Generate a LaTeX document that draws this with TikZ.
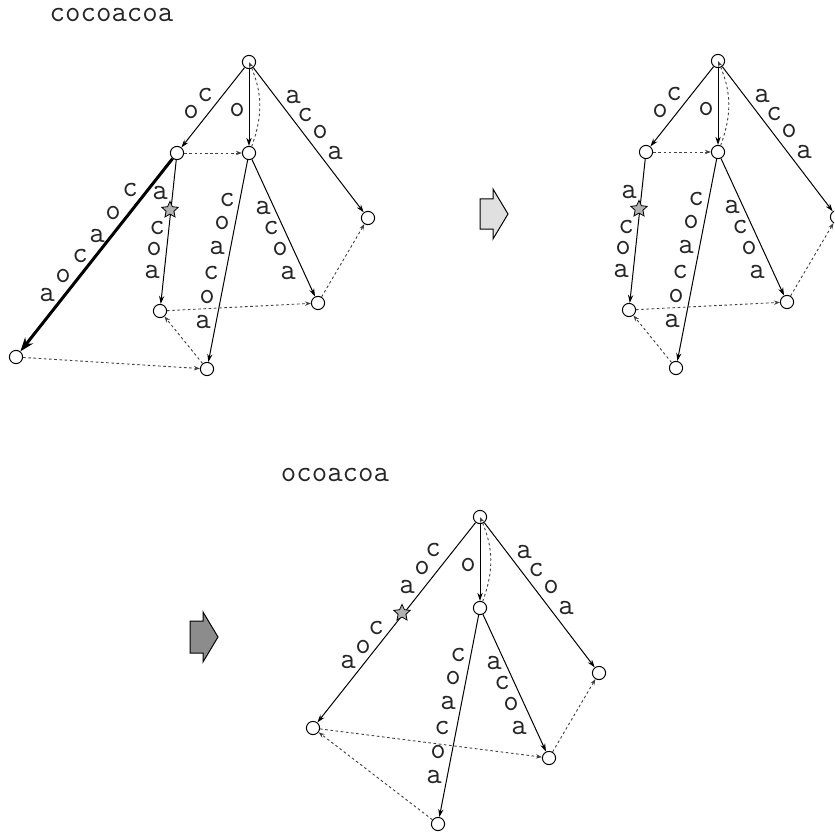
\documentclass[tikz,border=0pt]{standalone}
\usetikzlibrary{arrows.meta,shapes.geometric}

% shared part of the three trees (coordinates of the first tree)
\newcommand\coretree{%
  \node[st] (R) at (249,62) {};
  \node[st] (B) at (249,153) {};
  \node[st] (C) at (368,218) {};
  \node[st] (F) at (207,369) {};
  \node[st] (G) at (318,303) {};
  \draw[tr] (R) -- (B);
  \draw[tr] (R) -- (C);
  \draw[tr] (B) -- (F);
  \draw[tr] (B) -- (G);
  \draw[sl] (B) to[bend right=22] (R);
  \draw[sl] (G) -- (C);
  \node[lbl] (rb) at (237,110) {o};
  \foreach \l/\x/\y [count=\i] in {a/293/97, c/305/115, o/320/132, a/335/153}
    \node[lbl] (rc\i) at (\x,\y) {\l};
  \foreach \l/\x/\y [count=\i] in {c/227/200, o/222/223, a/217/248, c/211/273, o/207/297, a/203/322}
    \node[lbl] (bf\i) at (\x,\y) {\l};
  \foreach \l/\x/\y [count=\i] in {a/263/208, c/271/228, o/280/249, a/288/273}
    \node[lbl] (bg\i) at (\x,\y) {\l};
}
% the co branch of the first two trees
\newcommand\cobranch{%
  \node[st] (A) at (177,153) {};
  \node[st] (D) at (160,311) {};
  \draw[tr] (R) -- (A);
  \draw[tr] (A) -- (D);
  \draw[sl] (A) -- (B);
  \draw[sl] (D) -- (G);
  \draw[sl] (F) -- (D);
  \node[lbl] (ra1) at (205,95) {c};
  \node[lbl] (ra2) at (191,112) {o};
  \node[starmark] (cur) at (170,210) {};
  \foreach \l/\x/\y [count=\i] in {a/160/193, c/157/228, o/154/249, a/152/272}
    \node[lbl] (ad\i) at (\x,\y) {\l};
}

\begin{document}
\begin{tikzpicture}[x=0.5pt, y=-0.5pt,
  every node/.style={font=\fontsize{15}{17}\selectfont\ttfamily, text=black!85},
  st/.style={draw, circle, fill=white, inner sep=0pt, minimum size=6.6pt, line width=0.5pt},
  lbl/.style={inner sep=0pt},
  starmark/.style={draw, star, star points=5, star point ratio=2.1, fill=black!30,
    inner sep=0pt, minimum size=8.6pt, line width=0.4pt},
  tr/.style={-{Stealth[length=4pt, width=2.6pt]}, line width=0.5pt},
  trthick/.style={-{Stealth[length=7pt, width=5pt]}, line width=1.5pt},
  sl/.style={-{Stealth[length=3pt, width=2.2pt]}, line width=0.45pt, black!75,
    dash pattern=on 1.3pt off 1.3pt},
  blockarr/.style={draw, line width=0.5pt}]
\clip (0,0) rectangle (834,834);

% first tree
\node (s1) at (111.5,15) {cocoacoa};
\begin{scope}[name prefix=a-]
  \coretree
  \cobranch
  \node[st] (E) at (16,357) {};
  \draw[trthick] (A) -- (E);
  \draw[sl] (E) -- (F);
  \foreach \l/\x/\y [count=\i] in {c/130/190, o/113/213, a/97/236, c/80/256, o/63/276, a/47/295}
    \node[lbl] (ae\i) at (\x,\y) {\l};
\end{scope}

\draw[blockarr, fill=black!12] (480,199) -- (493,199) -- (493,189) -- (508,214)
  -- (493,239) -- (493,229) -- (480,229) -- cycle;

% second tree
\begin{scope}[shift={(469,-1)}, name prefix=b-]
  \coretree
  \cobranch
\end{scope}

\draw[blockarr, fill=black!45] (190,621) -- (203,621) -- (203,612) -- (218,637)
  -- (203,662) -- (203,653) -- (190,653) -- cycle;

% third tree
\node (s3) at (335,475) {ocoacoa};
\begin{scope}[shift={(231,455)}, name prefix=c-]
  \coretree
\end{scope}
\begin{scope}[name prefix=c-]
  \node[st] (L) at (313,728) {};
  \draw[tr] (R) -- (L);
  \draw[sl] (L) -- (G);
  \draw[sl] (F) -- (L);
  \node[starmark] (cur) at (402,613) {};
  \foreach \l/\x/\y [count=\i] in {c/433/550, o/422/568, a/407/587, c/376/628, o/363/647, a/348/662}
    \node[lbl] (rl\i) at (\x,\y) {\l};
\end{scope}
\end{tikzpicture}
\end{document}
